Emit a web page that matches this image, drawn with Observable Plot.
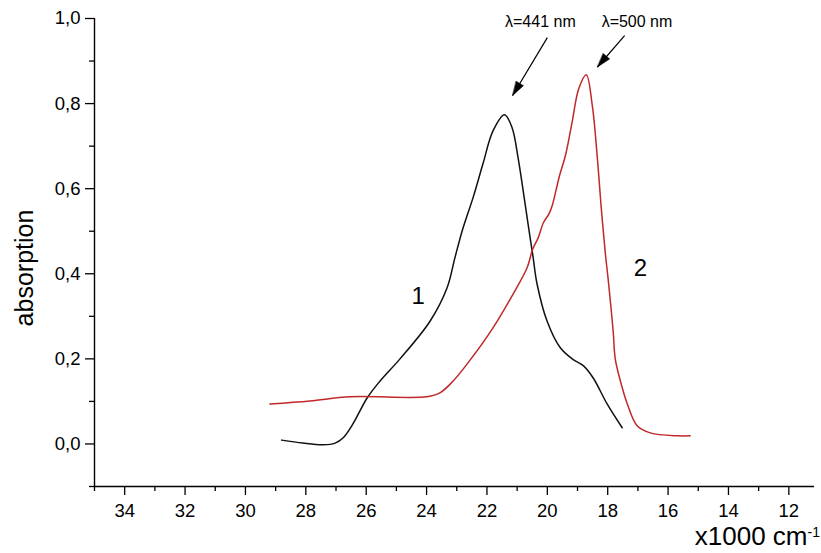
<!DOCTYPE html>
<html>
<head>
<meta charset="utf-8">
<script src="https://cdn.jsdelivr.net/npm/d3@7"></script>
<script src="https://cdn.jsdelivr.net/npm/@observablehq/plot@0.6"></script>
<style>
  html, body { margin: 0; padding: 0; background: #fff; }
  #chart { width: 821px; height: 553px; }
</style>
</head>
<body>
<div id="chart"></div>
<script>
// Curve 1 (black): wavenumber (x1000 cm-1) and absorption
const curve1X = [28.8, 28.1, 27.43, 27.03, 26.77, 26.44, 25.97, 25.54, 24.88, 23.88, 23.32, 23.06, 22.79, 22.46, 22.13, 21.8, 21.42, 21.17, 20.97, 20.8, 20.64, 20.47, 20.34, 20.01, 19.57, 19.14, 18.81, 18.48, 18.02, 17.52];
const curve1Y = [0.009, 0.002, -0.002, 0.002, 0.014, 0.047, 0.108, 0.148, 0.2, 0.289, 0.367, 0.438, 0.508, 0.579, 0.659, 0.736, 0.774, 0.744, 0.673, 0.595, 0.518, 0.438, 0.376, 0.289, 0.226, 0.198, 0.184, 0.155, 0.094, 0.038];

// Curve 2 (red)
const curve2X = [29.19, 27.86, 26.53, 23.99, 23.56, 23.12, 22.56, 21.8, 21.13, 20.67, 20.49, 20.3, 20.13, 19.95, 19.84, 19.7, 19.59, 19.4, 19.18, 18.96, 18.71, 18.51, 18.35, 18.22, 18.08, 17.98, 17.82, 17.75, 17.58, 17.35, 17.02, 16.59, 15.7, 15.27];
const curve2Y = [0.094, 0.101, 0.111, 0.111, 0.12, 0.148, 0.197, 0.273, 0.353, 0.414, 0.457, 0.485, 0.52, 0.54, 0.56, 0.6, 0.632, 0.678, 0.756, 0.835, 0.868, 0.795, 0.678, 0.56, 0.449, 0.384, 0.266, 0.2, 0.148, 0.094, 0.042, 0.026, 0.019, 0.019];

// Axis ticks
const xMajorTicks = [34, 32, 30, 28, 26, 24, 22, 20, 18, 16, 14, 12];
const xMinorTicks = [35, 33, 31, 29, 27, 25, 23, 21, 19, 17, 15, 13];
const yMajorTicks = [0, 0.2, 0.4, 0.6, 0.8, 1.0];
const yMinorTicks = [-0.1, 0.1, 0.3, 0.5, 0.7, 0.9];

// Labels
const curveLabels = ["1", "2"];
const peakLabels = ["λ=441 nm", "λ=500 nm"];
const xLabel = "x1000 cm";
const xLabelSup = "-1";
const yLabel = "absorption";

const rows1 = curve1X.map((x, i) => ({x, y: curve1Y[i]}));
const rows2 = curve2X.map((x, i) => ({x, y: curve2Y[i]}));

const headShape = {
  draw(ctx, l) {
    ctx.moveTo(0, -l);
    ctx.lineTo(-4.2, 0);
    ctx.lineTo(4.2, 0);
    ctx.closePath();
  }
};

const fmt = d => d.toFixed(1).replace(".", ",");
const font = "'Liberation Sans', Arial, Helvetica, sans-serif";

const chart = Plot.plot({
  width: 821,
  height: 553,
  marginLeft: 94,
  marginRight: 7,
  marginTop: 18,
  marginBottom: 67,
  style: {fontFamily: font, background: "#fff", color: "#000", overflow: "visible"},
  x: {domain: [35, 11.15], axis: null},
  y: {domain: [-0.1, 1.0], axis: null},
  marks: [
    // minor ticks
    Plot.axisX({ticks: xMinorTicks, tickSize: 5, tickFormat: () => "", label: null, strokeWidth: 1.3}),
    Plot.axisY({ticks: yMinorTicks, tickSize: 5, tickFormat: () => "", label: null, strokeWidth: 1.3}),
    // major ticks
    Plot.axisX({ticks: xMajorTicks, tickSize: 9, tickPadding: 8, fontSize: 18.5, tickFormat: d => String(d), label: null, strokeWidth: 1.3}),
    Plot.axisY({ticks: yMajorTicks, tickSize: 9, tickPadding: 5, fontSize: 18.5, tickFormat: fmt, label: null, strokeWidth: 1.3}),
    // axis lines
    Plot.ruleY([-0.1], {strokeWidth: 1.4}),
    Plot.ruleX([35], {strokeWidth: 1.4}),
    // curves
    Plot.line(rows1, {x: "x", y: "y", stroke: "#111", strokeWidth: 1.5, curve: "catmull-rom"}),
    Plot.line(rows2, {x: "x", y: "y", stroke: "#c0282a", strokeWidth: 1.5, curve: "catmull-rom"}),
    // curve labels
    Plot.text([curveLabels[0]], {x: 24.28, y: 0.348, text: d => d, fontSize: 24, lineAnchor: "middle", fill: "#000"}),
    Plot.text([curveLabels[1]], {x: 16.92, y: 0.412, text: d => d, fontSize: 24, lineAnchor: "middle", fill: "#000"}),
    // peak annotations
    Plot.text([peakLabels[0]], {x: 20.23, y: 0.979, text: d => d, fontSize: 16, lineAnchor: "bottom", fill: "#000"}),
    Plot.text([peakLabels[1]], {x: 17.03, y: 0.979, text: d => d, fontSize: 16, lineAnchor: "bottom", fill: "#000"}),
    Plot.link([0], {x1: 20.0, y1: 0.955, x2: 21.15, y2: 0.819, stroke: "#000", strokeWidth: 1.2}),
    Plot.link([0], {x1: 17.44, y1: 0.960, x2: 18.34, y2: 0.886, stroke: "#000", strokeWidth: 1.2}),
    Plot.vector([0], {x: 21.15, y: 0.819, rotate: 211, length: 14, anchor: "end", shape: headShape, fill: "#000", stroke: "#000", strokeWidth: 0.5}),
    Plot.vector([0], {x: 18.34, y: 0.886, rotate: 220, length: 14, anchor: "end", shape: headShape, fill: "#000", stroke: "#000", strokeWidth: 0.5}),
    // axis labels
    Plot.text([yLabel], {frameAnchor: "left", rotate: -90, dx: -70, dy: 15.5, text: d => d, fontSize: 25, textAnchor: "middle", lineAnchor: "middle", fill: "#000"}),
    Plot.text([xLabel], {frameAnchor: "bottom-right", dx: -7, dy: 58, text: d => d, fontSize: 26, textAnchor: "end", lineAnchor: "bottom", fill: "#000"}),
    Plot.text([xLabelSup], {frameAnchor: "bottom-right", dx: -7, dy: 50, text: d => d, fontSize: 14, textAnchor: "start", lineAnchor: "bottom", fill: "#000"})
  ]
});
document.getElementById("chart").appendChild(chart);
</script>
</body>
</html>
